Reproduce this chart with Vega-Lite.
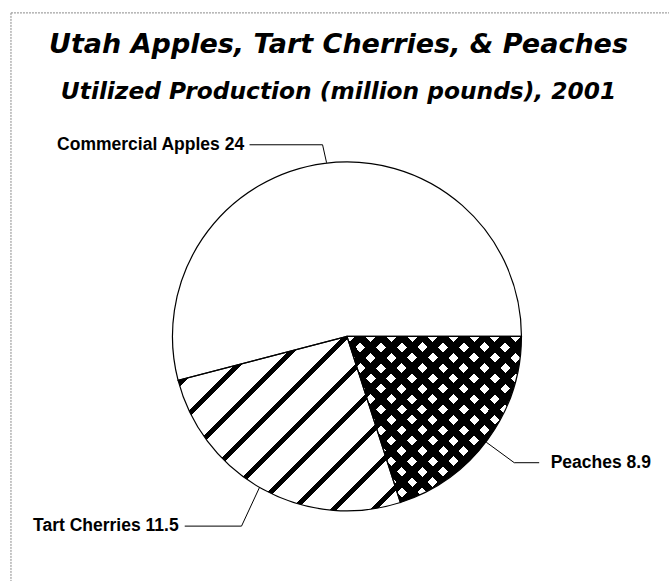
{
  "$schema": "https://vega.github.io/schema/vega-lite/v6.json",
  "width": 670,
  "height": 582,
  "autosize": {"type": "fit", "contains": "padding"},
  "padding": 0,
  "background": "white",
  "config": {"view": {"stroke": null}, "axis": {"disable": true}},
  "title": {
    "text": "Utah Apples, Tart Cherries, & Peaches",
    "subtitle": "Utilized Production (million pounds), 2001",
    "anchor": "middle",
    "frame": "group",
    "offset": -103.8,
    "dx": 4,
    "font": "DejaVu Sans",
    "fontSize": 27,
    "fontStyle": "italic",
    "fontWeight": "bold",
    "color": "black",
    "subtitleFont": "DejaVu Sans",
    "subtitleFontSize": 23.3,
    "subtitleFontStyle": "italic",
    "subtitleFontWeight": "bold",
    "subtitleColor": "black",
    "subtitlePadding": 22
  },
  "datasets": {
    "pie": [
      {"fruit": "Peaches", "value": 8.9, "order": 1},
      {"fruit": "Tart Cherries", "value": 11.5, "order": 2},
      {"fruit": "Commercial Apples", "value": 24, "order": 3}
    ],
    "leaders": [
      {"fruit": "Commercial Apples", "seq": 1, "x": -0.559, "y": 1.100},
      {"fruit": "Commercial Apples", "seq": 2, "x": -0.140, "y": 1.100},
      {"fruit": "Commercial Apples", "seq": 3, "x": -0.117, "y": 0.997},
      {"fruit": "Peaches", "seq": 1, "x": 0.799, "y": -0.607},
      {"fruit": "Peaches", "seq": 2, "x": 0.960, "y": -0.725},
      {"fruit": "Peaches", "seq": 3, "x": 1.103, "y": -0.725},
      {"fruit": "Tart Cherries", "seq": 1, "x": -0.501, "y": -0.865},
      {"fruit": "Tart Cherries", "seq": 2, "x": -0.605, "y": -1.089},
      {"fruit": "Tart Cherries", "seq": 3, "x": -0.931, "y": -1.089}
    ],
    "labels": [
      {"text": "Commercial Apples 24", "x": -0.590, "y": 1.100, "side": "left"},
      {"text": "Peaches 8.9", "x": 1.169, "y": -0.728, "side": "right"},
      {"text": "Tart Cherries 11.5", "x": -0.966, "y": -1.089, "side": "left"}
    ],
    "border": [
      {"x": -1.928, "y": 1.857, "x2": 1.848, "y2": 1.857},
      {"x": -1.928, "y": 1.857, "x2": -1.928, "y2": -1.404}
    ]
  },
  "layer": [
    {
      "data": {"name": "border"},
      "mark": {"type": "rule", "stroke": "#8a8a8a", "strokeWidth": 1, "strokeDash": [2, 1]},
      "encoding": {
        "x": {"field": "x", "type": "quantitative", "scale": {"domain": [-1.991, 1.848], "nice": false, "zero": false}, "axis": null},
        "y": {"field": "y", "type": "quantitative", "scale": {"domain": [-1.404, 1.931], "nice": false, "zero": false}, "axis": null},
        "x2": {"field": "x2"},
        "y2": {"field": "y2"}
      }
    },
    {
      "data": {"name": "pie"},
      "mark": {"type": "arc", "outerRadius": 174.5, "fill": "white"},
      "encoding": {
        "x": {"datum": 0, "type": "quantitative", "axis": null},
        "y": {"datum": 0, "type": "quantitative", "axis": null},
        "theta": {"field": "value", "type": "quantitative", "stack": true, "scale": {"range": [1.5708, 7.854]}},
        "order": {"field": "order", "type": "quantitative"}
      }
    },
    {
      "data": {"name": "pie"},
      "mark": {"type": "arc", "outerRadius": 174.5},
      "encoding": {
        "x": {"datum": 0, "type": "quantitative", "axis": null},
        "y": {"datum": 0, "type": "quantitative", "axis": null},
        "theta": {"field": "value", "type": "quantitative", "stack": true},
        "order": {"field": "order", "type": "quantitative"},
        "fill": {
          "condition": [
            {"test": "datum.fruit === 'Tart Cherries'", "value": {
              "gradient": "linear", "x1": 0, "y1": 0, "x2": 1.1048, "y2": 0.8664,
              "stops": [
                {"offset": 0, "color": "white"},
                {"offset": 0.01222, "color": "white"}, {"offset": 0.01222, "color": "black"}, {"offset": 0.03111, "color": "black"}, {"offset": 0.03111, "color": "white"},
                {"offset": 0.11297, "color": "white"}, {"offset": 0.11297, "color": "black"}, {"offset": 0.13186, "color": "black"}, {"offset": 0.13186, "color": "white"},
                {"offset": 0.21373, "color": "white"}, {"offset": 0.21373, "color": "black"}, {"offset": 0.23262, "color": "black"}, {"offset": 0.23262, "color": "white"},
                {"offset": 0.31448, "color": "white"}, {"offset": 0.31448, "color": "black"}, {"offset": 0.33338, "color": "black"}, {"offset": 0.33338, "color": "white"},
                {"offset": 0.41524, "color": "white"}, {"offset": 0.41524, "color": "black"}, {"offset": 0.43413, "color": "black"}, {"offset": 0.43413, "color": "white"},
                {"offset": 0.51599, "color": "white"}, {"offset": 0.51599, "color": "black"}, {"offset": 0.53489, "color": "black"}, {"offset": 0.53489, "color": "white"},
                {"offset": 0.61675, "color": "white"}, {"offset": 0.61675, "color": "black"}, {"offset": 0.63564, "color": "black"}, {"offset": 0.63564, "color": "white"},
                {"offset": 0.71751, "color": "white"}, {"offset": 0.71751, "color": "black"}, {"offset": 0.73640, "color": "black"}, {"offset": 0.73640, "color": "white"},
                {"offset": 0.81826, "color": "white"}, {"offset": 0.81826, "color": "black"}, {"offset": 0.83715, "color": "black"}, {"offset": 0.83715, "color": "white"},
                {"offset": 0.91902, "color": "white"}, {"offset": 0.91902, "color": "black"}, {"offset": 0.93791, "color": "black"}, {"offset": 0.93791, "color": "white"},
                {"offset": 1, "color": "white"}
              ]
            }},
            {"test": "datum.fruit === 'Peaches'", "value": {
              "gradient": "linear", "x1": 0, "y1": 0, "x2": 1.0245, "y2": 0.9744,
              "stops": [
                {"offset": 0, "color": "rgba(0,0,0,0)"},
                {"offset": 0.02511, "color": "rgba(0,0,0,0)"}, {"offset": 0.02511, "color": "black"}, {"offset": 0.05684, "color": "black"}, {"offset": 0.05684, "color": "rgba(0,0,0,0)"},
                {"offset": 0.08591, "color": "rgba(0,0,0,0)"}, {"offset": 0.08591, "color": "black"}, {"offset": 0.11763, "color": "black"}, {"offset": 0.11763, "color": "rgba(0,0,0,0)"},
                {"offset": 0.14671, "color": "rgba(0,0,0,0)"}, {"offset": 0.14671, "color": "black"}, {"offset": 0.17843, "color": "black"}, {"offset": 0.17843, "color": "rgba(0,0,0,0)"},
                {"offset": 0.20751, "color": "rgba(0,0,0,0)"}, {"offset": 0.20751, "color": "black"}, {"offset": 0.23923, "color": "black"}, {"offset": 0.23923, "color": "rgba(0,0,0,0)"},
                {"offset": 0.26831, "color": "rgba(0,0,0,0)"}, {"offset": 0.26831, "color": "black"}, {"offset": 0.30003, "color": "black"}, {"offset": 0.30003, "color": "rgba(0,0,0,0)"},
                {"offset": 0.32911, "color": "rgba(0,0,0,0)"}, {"offset": 0.32911, "color": "black"}, {"offset": 0.36084, "color": "black"}, {"offset": 0.36084, "color": "rgba(0,0,0,0)"},
                {"offset": 0.38991, "color": "rgba(0,0,0,0)"}, {"offset": 0.38991, "color": "black"}, {"offset": 0.42163, "color": "black"}, {"offset": 0.42163, "color": "rgba(0,0,0,0)"},
                {"offset": 0.45071, "color": "rgba(0,0,0,0)"}, {"offset": 0.45071, "color": "black"}, {"offset": 0.48243, "color": "black"}, {"offset": 0.48243, "color": "rgba(0,0,0,0)"},
                {"offset": 0.51151, "color": "rgba(0,0,0,0)"}, {"offset": 0.51151, "color": "black"}, {"offset": 0.54323, "color": "black"}, {"offset": 0.54323, "color": "rgba(0,0,0,0)"},
                {"offset": 0.57231, "color": "rgba(0,0,0,0)"}, {"offset": 0.57231, "color": "black"}, {"offset": 0.60403, "color": "black"}, {"offset": 0.60403, "color": "rgba(0,0,0,0)"},
                {"offset": 0.63311, "color": "rgba(0,0,0,0)"}, {"offset": 0.63311, "color": "black"}, {"offset": 0.66484, "color": "black"}, {"offset": 0.66484, "color": "rgba(0,0,0,0)"},
                {"offset": 0.69391, "color": "rgba(0,0,0,0)"}, {"offset": 0.69391, "color": "black"}, {"offset": 0.72564, "color": "black"}, {"offset": 0.72564, "color": "rgba(0,0,0,0)"},
                {"offset": 0.75471, "color": "rgba(0,0,0,0)"}, {"offset": 0.75471, "color": "black"}, {"offset": 0.78644, "color": "black"}, {"offset": 0.78644, "color": "rgba(0,0,0,0)"},
                {"offset": 0.81551, "color": "rgba(0,0,0,0)"}, {"offset": 0.81551, "color": "black"}, {"offset": 0.84724, "color": "black"}, {"offset": 0.84724, "color": "rgba(0,0,0,0)"},
                {"offset": 0.87631, "color": "rgba(0,0,0,0)"}, {"offset": 0.87631, "color": "black"}, {"offset": 0.90804, "color": "black"}, {"offset": 0.90804, "color": "rgba(0,0,0,0)"},
                {"offset": 0.93711, "color": "rgba(0,0,0,0)"}, {"offset": 0.93711, "color": "black"}, {"offset": 0.96884, "color": "black"}, {"offset": 0.96884, "color": "rgba(0,0,0,0)"},
                {"offset": 0.99791, "color": "rgba(0,0,0,0)"}, {"offset": 0.99791, "color": "black"}, {"offset": 1, "color": "black"}
              ]
            }}
          ],
          "value": "rgba(0,0,0,0)"
        }
      }
    },
    {
      "data": {"name": "pie"},
      "mark": {"type": "arc", "outerRadius": 174.5},
      "encoding": {
        "x": {"datum": 0, "type": "quantitative", "axis": null},
        "y": {"datum": 0, "type": "quantitative", "axis": null},
        "theta": {"field": "value", "type": "quantitative", "stack": true},
        "order": {"field": "order", "type": "quantitative"},
        "fill": {
          "condition": {"test": "datum.fruit === 'Peaches'", "value": {
            "gradient": "linear", "x1": 0, "y1": 1, "x2": 1.0245, "y2": 0.0256,
            "stops": [
              {"offset": 0, "color": "rgba(0,0,0,0)"},
              {"offset": 0.02264, "color": "rgba(0,0,0,0)"}, {"offset": 0.02264, "color": "black"}, {"offset": 0.05437, "color": "black"}, {"offset": 0.05437, "color": "rgba(0,0,0,0)"},
              {"offset": 0.08344, "color": "rgba(0,0,0,0)"}, {"offset": 0.08344, "color": "black"}, {"offset": 0.11516, "color": "black"}, {"offset": 0.11516, "color": "rgba(0,0,0,0)"},
              {"offset": 0.14424, "color": "rgba(0,0,0,0)"}, {"offset": 0.14424, "color": "black"}, {"offset": 0.17596, "color": "black"}, {"offset": 0.17596, "color": "rgba(0,0,0,0)"},
              {"offset": 0.20504, "color": "rgba(0,0,0,0)"}, {"offset": 0.20504, "color": "black"}, {"offset": 0.23676, "color": "black"}, {"offset": 0.23676, "color": "rgba(0,0,0,0)"},
              {"offset": 0.26584, "color": "rgba(0,0,0,0)"}, {"offset": 0.26584, "color": "black"}, {"offset": 0.29756, "color": "black"}, {"offset": 0.29756, "color": "rgba(0,0,0,0)"},
              {"offset": 0.32664, "color": "rgba(0,0,0,0)"}, {"offset": 0.32664, "color": "black"}, {"offset": 0.35837, "color": "black"}, {"offset": 0.35837, "color": "rgba(0,0,0,0)"},
              {"offset": 0.38744, "color": "rgba(0,0,0,0)"}, {"offset": 0.38744, "color": "black"}, {"offset": 0.41916, "color": "black"}, {"offset": 0.41916, "color": "rgba(0,0,0,0)"},
              {"offset": 0.44824, "color": "rgba(0,0,0,0)"}, {"offset": 0.44824, "color": "black"}, {"offset": 0.47996, "color": "black"}, {"offset": 0.47996, "color": "rgba(0,0,0,0)"},
              {"offset": 0.50904, "color": "rgba(0,0,0,0)"}, {"offset": 0.50904, "color": "black"}, {"offset": 0.54076, "color": "black"}, {"offset": 0.54076, "color": "rgba(0,0,0,0)"},
              {"offset": 0.56984, "color": "rgba(0,0,0,0)"}, {"offset": 0.56984, "color": "black"}, {"offset": 0.60156, "color": "black"}, {"offset": 0.60156, "color": "rgba(0,0,0,0)"},
              {"offset": 0.63064, "color": "rgba(0,0,0,0)"}, {"offset": 0.63064, "color": "black"}, {"offset": 0.66237, "color": "black"}, {"offset": 0.66237, "color": "rgba(0,0,0,0)"},
              {"offset": 0.69144, "color": "rgba(0,0,0,0)"}, {"offset": 0.69144, "color": "black"}, {"offset": 0.72317, "color": "black"}, {"offset": 0.72317, "color": "rgba(0,0,0,0)"},
              {"offset": 0.75224, "color": "rgba(0,0,0,0)"}, {"offset": 0.75224, "color": "black"}, {"offset": 0.78397, "color": "black"}, {"offset": 0.78397, "color": "rgba(0,0,0,0)"},
              {"offset": 0.81304, "color": "rgba(0,0,0,0)"}, {"offset": 0.81304, "color": "black"}, {"offset": 0.84477, "color": "black"}, {"offset": 0.84477, "color": "rgba(0,0,0,0)"},
              {"offset": 0.87384, "color": "rgba(0,0,0,0)"}, {"offset": 0.87384, "color": "black"}, {"offset": 0.90557, "color": "black"}, {"offset": 0.90557, "color": "rgba(0,0,0,0)"},
              {"offset": 0.93464, "color": "rgba(0,0,0,0)"}, {"offset": 0.93464, "color": "black"}, {"offset": 0.96637, "color": "black"}, {"offset": 0.96637, "color": "rgba(0,0,0,0)"},
              {"offset": 0.99544, "color": "rgba(0,0,0,0)"}, {"offset": 0.99544, "color": "black"}, {"offset": 1, "color": "black"}
            ]
          }},
          "value": "rgba(0,0,0,0)"
        }
      }
    },
    {
      "data": {"name": "pie"},
      "mark": {"type": "arc", "outerRadius": 174.5, "filled": false, "stroke": "black", "strokeWidth": 1.2},
      "encoding": {
        "x": {"datum": 0, "type": "quantitative", "axis": null},
        "y": {"datum": 0, "type": "quantitative", "axis": null},
        "theta": {"field": "value", "type": "quantitative", "stack": true},
        "order": {"field": "order", "type": "quantitative"}
      }
    },
    {
      "data": {"name": "leaders"},
      "mark": {"type": "line", "stroke": "black", "strokeWidth": 1},
      "encoding": {
        "x": {"field": "x", "type": "quantitative", "axis": null},
        "y": {"field": "y", "type": "quantitative", "axis": null},
        "detail": {"field": "fruit"},
        "order": {"field": "seq", "type": "quantitative"}
      }
    },
    {
      "data": {"name": "labels"},
      "transform": [{"filter": "datum.side === 'left'"}],
      "mark": {"type": "text", "font": "Liberation Sans", "fontSize": 17.5, "fontWeight": "bold", "color": "black", "baseline": "middle", "align": "right"},
      "encoding": {
        "x": {"field": "x", "type": "quantitative", "axis": null},
        "y": {"field": "y", "type": "quantitative", "axis": null},
        "text": {"field": "text"}
      }
    },
    {
      "data": {"name": "labels"},
      "transform": [{"filter": "datum.side === 'right'"}],
      "mark": {"type": "text", "font": "Liberation Sans", "fontSize": 17.5, "fontWeight": "bold", "color": "black", "baseline": "middle", "align": "left"},
      "encoding": {
        "x": {"field": "x", "type": "quantitative", "axis": null},
        "y": {"field": "y", "type": "quantitative", "axis": null},
        "text": {"field": "text"}
      }
    }
  ]
}
